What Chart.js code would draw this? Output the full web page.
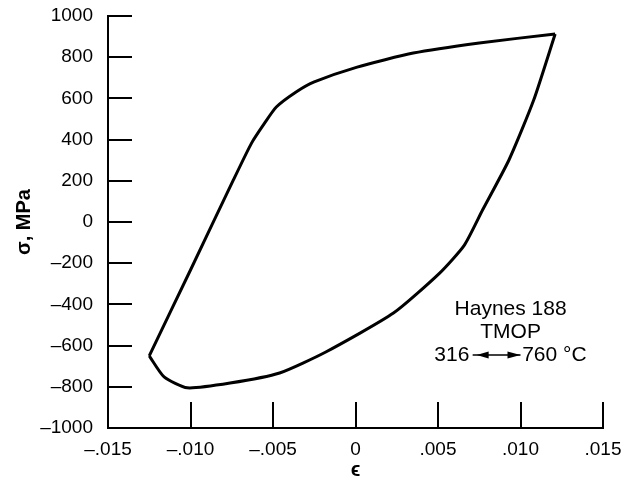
<!DOCTYPE html>
<html>
<head>
<meta charset="utf-8">
<script src="https://cdn.jsdelivr.net/npm/chart.js@4"></script>
<style>
	html, body { margin: 0; padding: 0; background: #fff; }
	#wrap { width: 627px; height: 482px; }
</style>
</head>
<body>
<div id="wrap"><canvas id="chart" width="627" height="482"></canvas></div>
<script>
// hysteresis loop, Haynes 188, TMOP 316 <-> 760 C
const strainLoading = [-0.0125, -0.0100, -0.0074, -0.0063, -0.0055, -0.0048, -0.0036, -0.0025, 0.0001, 0.0035, 0.0075, 0.0121];
const stressLoading = [-650, -233, 204, 383, 481, 558, 631, 680, 752, 820, 869, 913];

const strainUnloading = [0.0121, 0.0108, 0.0093, 0.0077, 0.0066, 0.0051, 0.0023, -0.0018, -0.0046, -0.0076, -0.0102, -0.0116, -0.0125];
const stressUnloading = [913, 592, 301, 58, -112, -248, -442, -631, -733, -782, -805, -752, -650];

const xTickValues = [-0.015, -0.010, -0.005, 0, 0.005, 0.010, 0.015];
const xTickLabels = ['–.015', '–.010', '–.005', '0', '.005', '.010', '.015'];
const yTickValues = [-1000, -800, -600, -400, -200, 0, 200, 400, 600, 800, 1000];
const yTickLabels = ['–1000', '–800', '–600', '–400', '–200', '0', '200', '400', '600', '800', '1000'];

const noteLines = ['Haynes 188', 'TMOP'];
const noteTemps = ['316', '760 °C'];

const FONT = 'Liberation Sans, Arial, Helvetica, sans-serif';

function toPoints(xs, ys) {
	return xs.map((x, i) => ({ x, y: ys[i] }));
}

function labelFor(values, labels, v) {
	const i = values.findIndex((t) => Math.abs(t - v) < 1e-9);
	return i >= 0 ? labels[i] : '';
}

// inward tick marks plus the text block in the lower right
const decorations = {
	id: 'decorations',
	afterDraw(chart) {
		const { ctx, chartArea, scales } = chart;
		const xs = scales.x;
		const ys = scales.y;
		ctx.save();
		ctx.strokeStyle = '#000';
		ctx.lineWidth = 2;
		ctx.beginPath();
		yTickValues.forEach((v) => {
			if (v === -1000) return;
			const py = Math.round(ys.getPixelForValue(v));
			ctx.moveTo(chartArea.left, py);
			ctx.lineTo(chartArea.left + 24, py);
		});
		xTickValues.forEach((v) => {
			if (v === -0.015) return;
			const px = Math.round(xs.getPixelForValue(v));
			ctx.moveTo(px, chartArea.bottom);
			ctx.lineTo(px, chartArea.bottom - 26);
		});
		ctx.stroke();

		ctx.fillStyle = '#000';
		ctx.font = '21px ' + FONT;
		ctx.textAlign = 'center';
		ctx.textBaseline = 'middle';
		const cx = xs.getPixelForValue(0.0094);
		ctx.fillText(noteLines[0], cx, ys.getPixelForValue(-422));
		ctx.fillText(noteLines[1], cx, ys.getPixelForValue(-534));

		const rowY = ys.getPixelForValue(-646);
		ctx.textAlign = 'right';
		ctx.fillText(noteTemps[0], xs.getPixelForValue(0.0069), rowY);
		ctx.textAlign = 'left';
		ctx.fillText(noteTemps[1], xs.getPixelForValue(0.0101), rowY);

		// double arrow between the two temperatures
		const a = xs.getPixelForValue(0.0071);
		const b = xs.getPixelForValue(0.0100);
		ctx.lineWidth = 1.5;
		ctx.beginPath();
		ctx.moveTo(a, rowY);
		ctx.lineTo(b, rowY);
		ctx.stroke();
		ctx.beginPath();
		ctx.moveTo(a + 4, rowY);
		ctx.lineTo(a + 16, rowY - 3.5);
		ctx.lineTo(a + 16, rowY + 3.5);
		ctx.closePath();
		ctx.moveTo(b, rowY);
		ctx.lineTo(b - 13, rowY - 3.5);
		ctx.lineTo(b - 13, rowY + 3.5);
		ctx.closePath();
		ctx.fill();
		ctx.restore();
	},
};

const lineStyle = {
	showLine: true,
	borderColor: '#000',
	borderWidth: 3,
	pointRadius: 0,
	tension: 0.2,
	fill: false,
};

const chart = new Chart(document.getElementById('chart'), {
	type: 'scatter',
	data: {
		datasets: [
			{ label: 'loading', data: toPoints(strainLoading, stressLoading), ...lineStyle },
			{ label: 'unloading', data: toPoints(strainUnloading, stressUnloading), ...lineStyle },
		],
	},
	options: {
		responsive: false,
		animation: false,
		events: [],
		layout: { padding: { left: 0, top: 16, right: 24, bottom: 0 } },
		plugins: {
			legend: { display: false },
			tooltip: { enabled: false },
		},
		scales: {
			x: {
				type: 'linear',
				min: -0.015,
				max: 0.015,
				afterBuildTicks(scale) {
					scale.ticks = xTickValues.map((value) => ({ value }));
				},
				afterFit(scale) {
					scale.height = 54;
					scale.paddingLeft = 0;
					scale.paddingRight = 0;
				},
				grid: { display: false, drawTicks: false },
				border: { display: true, color: '#000', width: 2 },
				ticks: {
					color: '#000',
					font: { family: FONT, size: 19 },
					padding: 10,
					maxRotation: 0,
					autoSkip: false,
					callback: (v) => labelFor(xTickValues, xTickLabels, v),
				},
				title: {
					display: true,
					text: 'ϵ',
					color: '#000',
					font: { family: FONT, size: 20, weight: 'bold' },
					padding: { top: 0, bottom: 0 },
				},
			},
			y: {
				type: 'linear',
				min: -1000,
				max: 1000,
				afterBuildTicks(scale) {
					scale.ticks = yTickValues.map((value) => ({ value }));
				},
				afterFit(scale) {
					scale.width = 108;
					scale.paddingTop = 0;
					scale.paddingBottom = 0;
				},
				grid: { display: false, drawTicks: false },
				border: { display: true, color: '#000', width: 2 },
				ticks: {
					color: '#000',
					font: { family: FONT, size: 19 },
					padding: 15,
					autoSkip: false,
					callback: (v) => labelFor(yTickValues, yTickLabels, v),
				},
				title: {
					display: true,
					text: 'σ, MPa',
					color: '#000',
					font: { family: FONT, size: 20, weight: 'bold' },
					padding: { top: 12, bottom: 0 },
				},
			},
		},
	},
	plugins: [decorations],
});
</script>
</body>
</html>
